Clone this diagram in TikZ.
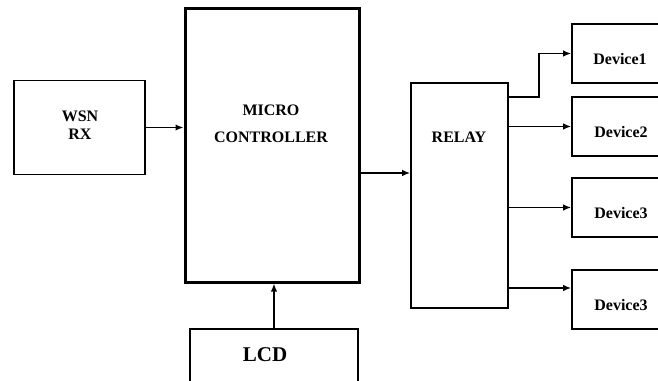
\documentclass[tikz,border=0pt]{standalone}
\usepackage{fontspec}
\setmainfont{Liberation Serif}
\usetikzlibrary{arrows.meta}
\tikzset{
  blk/.style={draw=black, line width=1.6pt, inner sep=0pt},
  lbl/.style={font=\fontsize{16}{18}\selectfont\bfseries, align=center},
  conn/.style={draw=black, line width=1.9pt, -{Latex[length=8pt,width=6.5pt]}}
}
\begin{document}
\begin{tikzpicture}[x=1pt,y=-1pt]
\useasboundingbox (0,0) rectangle (658,380);
% blocks
\node[blk, minimum width=131pt, minimum height=94pt] (wsn) at (79.5,127.5) {};
\node[blk, line width=3pt, minimum width=174pt, minimum height=274pt] (mcu) at (272,145) {};
\node[blk, minimum width=168pt, minimum height=70pt] (lcd) at (274,364) {};
\node[blk, minimum width=97pt, minimum height=225pt] (relay) at (459.5,195.5) {};
\node[blk, minimum width=108pt, minimum height=59pt] (dev1) at (626,53.5) {};
\node[blk, minimum width=108pt, minimum height=59pt] (dev2) at (626,126.5) {};
\node[blk, minimum width=108pt, minimum height=59pt] (dev3) at (626,207.5) {};
\node[blk, minimum width=108pt, minimum height=59pt] (dev4) at (626,299.5) {};
% labels
\node[lbl] (wsntxt) at (80,125) {WSN\\RX};
\node[lbl] (mcutxt) at (271,123.5) {MICRO\\[9pt]CONTROLLER};
\node[lbl] (relaytxt) at (459,137) {RELAY};
\node[lbl] (dev1txt) at (620,59) {Device1};
\node[lbl] (dev2txt) at (621,132) {Device2};
\node[lbl] (dev3txt) at (621,213) {Device3};
\node[lbl] (dev4txt) at (621,305) {Device3};
\node[lbl, font=\fontsize{21}{24}\selectfont\bfseries] (lcdtxt) at (265,355) {LCD};
% connectors
\coordinate (mcuout) at ([yshift=-28pt]mcu.east);
\coordinate (bend) at (539,97);
\coordinate (r4) at ([yshift=11.5pt]dev4.west);
\draw[conn] (wsn.east) -- (wsn.east -| mcu.west);
\draw[conn] (lcd.north) -- (lcd.north |- mcu.south);
\draw[conn] (mcuout) -- (mcuout -| relay.west);
\draw[conn] (bend -| relay.east) -- (bend) |- (dev1.west);
\draw[conn] (dev2.west -| relay.east) -- (dev2.west);
\draw[conn] (dev3.west -| relay.east) -- (dev3.west);
\draw[conn] (r4 -| relay.east) -- (r4);
\end{tikzpicture}
\end{document}
